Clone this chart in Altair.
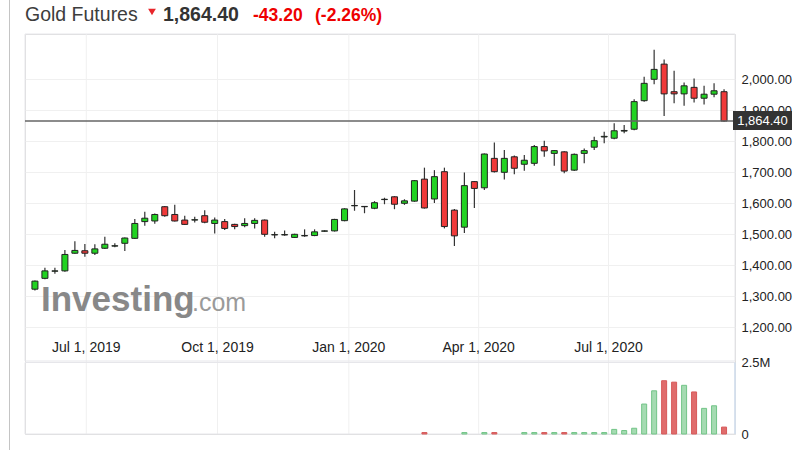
import altair as alt
import pandas as pd

FONT = "Liberation Sans"

# ---------------- data ----------------
first_week = "2019-05-26"
n_weeks = 70
dates = pd.date_range(first_week, periods=n_weeks, freq="7D").strftime("%Y-%m-%d").tolist()

opens = [1322, 1357, 1380, 1381, 1438, 1446, 1438, 1454, 1461, 1470,
         1486, 1540, 1542, 1588, 1563, 1545, 1545, 1559, 1534, 1540,
         1531, 1527, 1534, 1545, 1497, 1497, 1489, 1494, 1495, 1509,
         1510, 1543, 1591, 1588, 1583, 1611, 1620, 1599, 1606, 1677,
         1613, 1701, 1577, 1522, 1669, 1649, 1744, 1699, 1749, 1725,
         1728, 1782, 1760, 1765, 1706, 1760, 1780, 1813, 1809, 1832,
         1838, 1930, 1999, 2048, 1959, 1952, 1973, 1938, 1951, 1959]
highs = [1350, 1391, 1391, 1448, 1477, 1468, 1467, 1491, 1470, 1489,
         1548, 1572, 1566, 1590, 1594, 1559, 1556, 1577, 1553, 1548,
         1533, 1551, 1551, 1547, 1507, 1511, 1501, 1515, 1515, 1512,
         1549, 1583, 1642, 1590, 1606, 1617, 1622, 1612, 1674, 1714,
         1706, 1714, 1581, 1698, 1671, 1760, 1795, 1771, 1753, 1755,
         1787, 1801, 1771, 1767, 1760, 1776, 1814, 1830, 1857, 1852,
         1935, 2007, 2094, 2063, 2027, 1989, 2002, 1978, 1986, 1967]
lows = [1318, 1354, 1372, 1378, 1436, 1427, 1432, 1452, 1457, 1445,
        1484, 1527, 1533, 1556, 1540, 1529, 1537, 1535, 1502, 1513,
        1515, 1522, 1518, 1491, 1486, 1494, 1487, 1491, 1493, 1507,
        1508, 1541, 1575, 1567, 1580, 1596, 1580, 1594, 1604, 1582,
        1600, 1518, 1461, 1503, 1584, 1642, 1698, 1676, 1693, 1704,
        1720, 1749, 1720, 1696, 1703, 1728, 1771, 1793, 1806, 1825,
        1835, 1927, 1983, 1881, 1922, 1914, 1924, 1918, 1941, 1862]
closes = [1348, 1381, 1381, 1434, 1447, 1438, 1452, 1467, 1462, 1487,
          1534, 1551, 1563, 1559, 1542, 1531, 1546, 1538, 1545, 1518,
          1524, 1534, 1544, 1499, 1498, 1498, 1499, 1495, 1507, 1510,
          1547, 1581, 1592, 1589, 1601, 1612, 1596, 1607, 1672, 1584,
          1685, 1524, 1494, 1656, 1647, 1758, 1701, 1744, 1712, 1738,
          1782, 1768, 1769, 1703, 1757, 1769, 1801, 1815, 1833, 1834,
          1927, 1986, 2031, 1952, 1952, 1978, 1938, 1951, 1962, 1864.4]
volume_m = [0, 0, 0, 0, 0, 0, 0, 0, 0, 0,
            0, 0, 0, 0, 0, 0, 0, 0, 0, 0,
            0, 0, 0, 0, 0, 0, 0, 0, 0, 0,
            0, 0, 0, 0, 0, 0, 0, 0, 0, 0.05,
            0, 0, 0, 0.05, 0, 0.05, 0.05, 0, 0, 0.05,
            0.05, 0.05, 0.05, 0.05, 0.05, 0.05, 0.05, 0.05, 0.16, 0.12,
            0.2, 1.04, 1.5, 1.85, 1.8, 1.69, 1.46, 0.89, 0.98, 0.24]

tick_dates = ["2019-07-01", "2019-10-01", "2020-01-01", "2020-04-01", "2020-07-01"]
tick_labels = ["Jul 1, 2019", "Oct 1, 2019", "Jan 1, 2020", "Apr 1, 2020", "Jul 1, 2020"]

price_ticks = [1200, 1300, 1400, 1500, 1600, 1700, 1800, 1900, 2000, 2100]
last_price = 1864.40
last_label = "1,864.40"
header_parts = ["Gold Futures", "1,864.40", "-43.20", "(-2.26%)"]

df = pd.DataFrame({"date": dates, "open": opens, "high": highs,
                   "low": lows, "close": closes,
                   "volume": [v * 1e6 for v in volume_m]})
vol_df = df[df["volume"] > 0]
ticks_df = pd.DataFrame({"date": tick_dates, "label": tick_labels})
last_df = pd.DataFrame({"price": [last_price], "label": [last_label]})
one = pd.DataFrame({"k": [0]})

# ---------------- scales ----------------
W, H = 710, 400
px_per_day = 10.13 / 7
start = pd.Timestamp(first_week) - pd.Timedelta(days=5 / px_per_day)
end = start + pd.Timedelta(days=W / px_per_day)
x_scale = alt.Scale(type="utc", domain=[start.value // 10**6, end.value // 10**6])
price_scale = alt.Scale(domain=[1200, 2000], range=[293, 45], nice=False, zero=False)
vol_scale = alt.Scale(domain=[0, 2500000], range=[400, 328], nice=False, zero=True)

X = alt.X("date:T", scale=x_scale, axis=None)
up = "datum.close >= datum.open"

GREEN, RED = "#22d322", "#f03a3a"

# ---------------- layers ----------------
outer_line = alt.Chart(one).mark_rule(color="#c4c4c4", strokeWidth=1).encode(
    x=alt.value(-15.5), y=alt.value(-34), y2=alt.value(416))

vgrid = alt.Chart(ticks_df).mark_rule(color="#f0f0f0", strokeWidth=1).encode(
    x=X, y=alt.value(0), y2=alt.value(400))

main_pane = alt.Chart(one).mark_rect(fill=None, stroke="#e6e6ea", strokeWidth=1).encode(
    x=alt.value(0), x2=alt.value(W), y=alt.value(0), y2=alt.value(327))
vol_pane = alt.Chart(one).mark_rect(fill=None, stroke="#e6e6ea", strokeWidth=1).encode(
    x=alt.value(0), x2=alt.value(W), y=alt.value(328.5), y2=alt.value(400))
vol_right = alt.Chart(one).mark_rule(color="#cfdcec", strokeWidth=1.5).encode(
    x=alt.value(W), y=alt.value(328.5), y2=alt.value(400))

price_axis = alt.Axis(orient="right", values=price_ticks, title=None,
                      labelExpr="datum.value > 2050 ? '' : format(datum.value, ',.2f')",
                      grid=True, gridColor="#f0f0f0", ticks=False, domain=False,
                      labelPadding=6, labelFontSize=13, labelColor="#222",
                      labelFont=FONT, labelAlign="left", zindex=0)
price_grid_layer = alt.Chart(df).mark_rule(opacity=0).encode(
    x=X, y=alt.Y("low:Q", scale=price_scale, axis=price_axis))

watermark = alt.Chart(pd.DataFrame({"t": ["Investing"]})).mark_text(
    font=FONT, fontSize=35, fontWeight="bold", color="#888888", align="left",
    baseline="alphabetic").encode(
    text="t:N", x=alt.value(16), y=alt.value(277))
watermark2 = alt.Chart(pd.DataFrame({"t": [".com"]})).mark_text(
    font=FONT, fontSize=25, color="#9a9a9a", align="left",
    baseline="alphabetic").encode(
    text="t:N", x=alt.value(167), y=alt.value(277))

wicks = alt.Chart(df).mark_rule(color="#333", strokeWidth=1.2).encode(
    x=X, y=alt.Y("low:Q", scale=price_scale, axis=None), y2="high:Q")

bodies = alt.Chart(df).mark_bar(size=6, stroke="#222", strokeWidth=1).encode(
    x=X, y=alt.Y("open:Q", scale=price_scale, axis=None), y2="close:Q",
    color=alt.condition(up, alt.value(GREEN), alt.value(RED)))

last_line = alt.Chart(last_df).mark_rule(color="#666", strokeWidth=1.5).encode(
    x=alt.value(0), x2=alt.value(W),
    y=alt.Y("price:Q", scale=price_scale, axis=None))
last_box = alt.Chart(last_df).mark_rect(color="#333", yOffset=-10, y2Offset=9).encode(
    x=alt.value(708), x2=alt.value(767),
    y=alt.Y("price:Q", scale=price_scale, axis=None), y2="price:Q")
last_text = alt.Chart(last_df).mark_text(
    font=FONT, fontSize=13, color="white", align="center", baseline="middle").encode(
    x=alt.value(737.5), y=alt.Y("price:Q", scale=price_scale, axis=None), text="label:N")

vol_axis = alt.Axis(orient="right", values=[0, 2500000], title=None,
                    labelExpr="datum.value == 0 ? '0' : '2.5M'",
                    grid=False, ticks=False, domain=False, labelPadding=6,
                    labelFontSize=13, labelColor="#222", labelFont=FONT,
                    labelAlign="left", zindex=0)
vol_bars = alt.Chart(vol_df).mark_bar(size=5, strokeWidth=1).encode(
    x=X, y=alt.Y("volume:Q", scale=vol_scale, axis=vol_axis),
    color=alt.condition(up, alt.value("#a5dbb2"), alt.value("#e06c6c")),
    stroke=alt.condition(up, alt.value("#72c487"), alt.value("#d65a5a")))

date_labels = alt.Chart(ticks_df).mark_text(
    font=FONT, fontSize=14, color="#222", align="center", baseline="middle").encode(
    x=X, y=alt.value(314), text="label:N")

def head(txt, x, size, color, weight="normal"):
    return alt.Chart(pd.DataFrame({"t": [txt]})).mark_text(
        font=FONT, fontSize=size, color=color, fontWeight=weight,
        align="left", baseline="alphabetic").encode(
        text="t:N", x=alt.value(x), y=alt.value(-13))

h1 = head(header_parts[0], 0, 19.5, "#3d3d3d")
h2 = head(header_parts[1], 138, 19.5, "#333", "bold")
h3 = head(header_parts[2], 228, 17.5, "#ee0000", "bold")
h4 = head(header_parts[3], 290, 17.5, "#ee0000", "bold")
arrow = alt.Chart(one).mark_point(shape="triangle-down", filled=True, size=60,
                                  color="#e8262b", opacity=1).encode(
    x=alt.value(127), y=alt.value(-22))

chart = alt.layer(
    outer_line, vgrid, main_pane, vol_pane, price_grid_layer, watermark, watermark2,
    vol_bars, vol_right, wicks, bodies, last_line, last_box, last_text,
    date_labels, h1, h2, h3, h4, arrow
).resolve_scale(y="independent").properties(
    width=W, height=H,
    autosize=alt.AutoSizeParams(type="none"),
    padding={"left": 25, "top": 34, "right": 72, "bottom": 16},
    background="white",
).configure_view(stroke=None).configure(font=FONT)

chart.save("out.html", embed_options={"renderer": "svg", "actions": False})
